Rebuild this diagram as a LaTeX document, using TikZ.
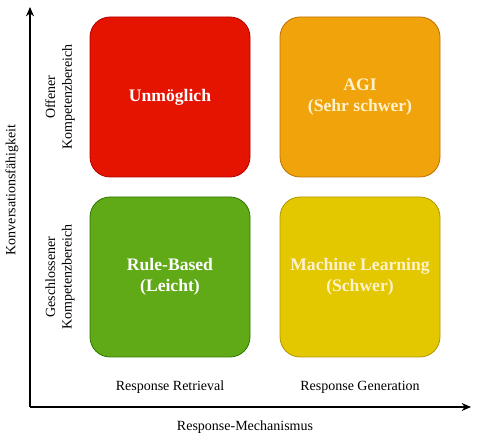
\documentclass[tikz,border=0pt]{standalone}
\usepackage{fontspec}
\setmainfont{Liberation Serif}
\usetikzlibrary{arrows.meta}

\definecolor{redfill}{HTML}{E51400}
\definecolor{redline}{HTML}{B20000}
\definecolor{amberfill}{HTML}{F0A30A}
\definecolor{amberline}{HTML}{BD7000}
\definecolor{greenfill}{HTML}{60A917}
\definecolor{greenline}{HTML}{2D7600}
\definecolor{yellowfill}{HTML}{E3C800}
\definecolor{yellowline}{HTML}{B09500}
\definecolor{cream}{HTML}{FFF2CC}

\tikzset{
  quad/.style={draw, rounded corners=15pt, minimum width=120pt, minimum height=120pt,
    line width=0.6pt, align=center, font=\fontsize{13.2}{15.8}\selectfont\bfseries},
  lbl/.style={font=\fontsize{10.5}{12.5}\selectfont, align=center},
  axis/.style={line width=0.8pt, -{Stealth[length=7pt,width=6pt]}}
}

\begin{document}
\begin{tikzpicture}[x=0.75pt,y=-0.75pt]
\useasboundingbox (0,0) rectangle (479,438);
% quadrants
\node[quad, fill=redfill, draw=redline, text=white] (impossible) at (170,97) {Unmöglich};
\node[quad, fill=amberfill, draw=amberline, text=cream] (agi) at (360,97) {AGI\\(Sehr schwer)};
\node[quad, fill=greenfill, draw=greenline, text=white] (rules) at (170,277) {Rule-Based\\(Leicht)};
\node[quad, fill=yellowfill, draw=yellowline, text=cream] (ml) at (360,277) {Machine Learning\\(Schwer)};
% axes
\coordinate (origin) at (30,407);
\coordinate (ytop) at (30,7);
\coordinate (xend) at (471,407);
\draw[axis] (origin) -- (ytop);
\draw[axis] (origin) -- (xend);
% labels
\node[lbl, rotate=90] (yaxis) at (12,190) {Konversationsfähigkeit};
\node[lbl, rotate=90] (open) at (60,97) {Offener\\Kompetenzbereich};
\node[lbl, rotate=90] (closed) at (60,277) {Geschlossener\\Kompetenzbereich};
\node[lbl] (retrieval) at (170,387) {Response Retrieval};
\node[lbl] (generation) at (360,387) {Response Generation};
\node[lbl] (xaxis) at (245,427) {Response-Mechanismus};
\end{tikzpicture}
\end{document}
